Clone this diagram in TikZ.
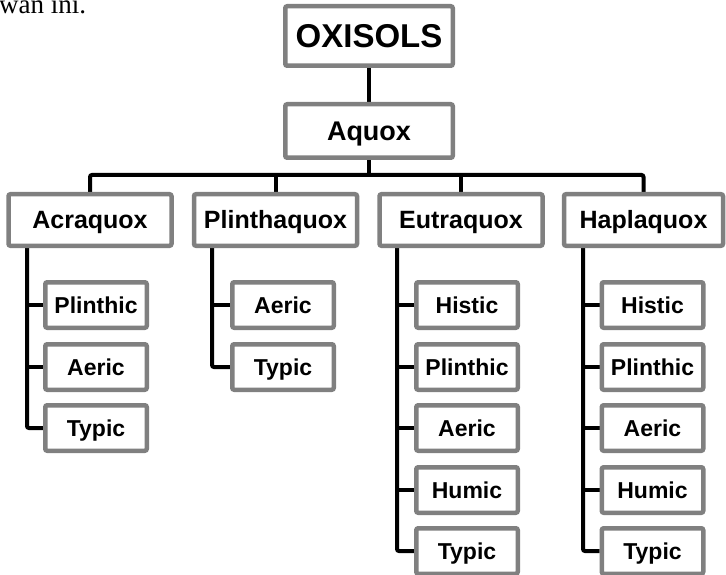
\documentclass[tikz,border=0pt]{standalone}
\usepackage{fontspec}
\setmainfont{Liberation Serif}
\setsansfont{Liberation Sans}
\usetikzlibrary{backgrounds}
\definecolor{boxgray}{RGB}{128,128,128}
\begin{document}
\begin{tikzpicture}[x=1pt,y=-1pt,
  box/.style={draw=boxgray, fill=white, line width=4.5pt, rounded corners=2pt,
    inner sep=0pt, text depth=0pt},
  topbox/.style={box, minimum width=167.5pt, minimum height=59.5pt, text height=23.6pt,
    font=\sffamily\bfseries\fontsize{33}{33}\selectfont},
  secbox/.style={box, minimum width=167.5pt, minimum height=53.5pt, text height=19.3pt,
    font=\sffamily\bfseries\fontsize{27}{27}\selectfont},
  grpbox/.style={box, minimum width=163pt, minimum height=51.5pt, text height=17.9pt,
    font=\sffamily\bfseries\fontsize{25}{25}\selectfont},
  subbox/.style={box, minimum width=101.5pt, minimum height=45.5pt, text height=16.5pt,
    font=\sffamily\bfseries\fontsize{23}{23}\selectfont},
  conn/.style={draw=black, line width=4pt, rounded corners=2pt}
]
\useasboundingbox (0,0) rectangle (726,575);

\node[anchor=base west, inner sep=0pt, font=\fontsize{27}{27}\selectfont] (intro) at (-1,14) {wan ini.};

\node[topbox] (ox) at (369,36) {OXISOLS};
\node[secbox] (aq) at (369,131) {Aquox};

\node[grpbox] (acra) at (90,220) {Acraquox};
\node[grpbox] (plin) at (275.5,220) {Plinthaquox};
\node[grpbox] (eutr) at (461,220) {Eutraquox};
\node[grpbox, minimum width=159pt] (hapl) at (643.5,220) {Haplaquox};

\node[subbox] (a1) at (96,305) {Plinthic};
\node[subbox] (a2) at (96,367) {Aeric};
\node[subbox] (a3) at (96,428) {Typic};

\node[subbox] (p1) at (283,305) {Aeric};
\node[subbox] (p2) at (283,367) {Typic};

\node[subbox] (e1) at (467,305) {Histic};
\node[subbox] (e2) at (467,367) {Plinthic};
\node[subbox] (e3) at (467,428) {Aeric};
\node[subbox] (e4) at (467,490) {Humic};
\node[subbox] (e5) at (467,551) {Typic};

\node[subbox] (h1) at (652.5,305) {Histic};
\node[subbox] (h2) at (652.5,367) {Plinthic};
\node[subbox] (h3) at (652.5,428) {Aeric};
\node[subbox] (h4) at (652.5,490) {Humic};
\node[subbox] (h5) at (652.5,551) {Typic};

\coordinate (bar) at (0,175);
\coordinate (ax) at (27,0);
\coordinate (px) at (212,0);
\coordinate (ex) at (397,0);
\coordinate (hx) at (583,0);

\begin{scope}[on background layer]
  \draw[conn] (ox) -- (aq);
  \draw[conn] (aq) -- (aq |- bar);
  \draw[conn] (acra) -- (acra |- bar) -- (hapl |- bar) -- (hapl);
  \draw[conn] (plin) -- (plin |- bar);
  \draw[conn] (eutr) -- (eutr |- bar);

  \draw[conn] (ax |- acra) -- (ax |- a3) -- (a3);
  \draw[conn] (ax |- a1) -- (a1);
  \draw[conn] (ax |- a2) -- (a2);

  \draw[conn] (px |- plin) -- (px |- p2) -- (p2);
  \draw[conn] (px |- p1) -- (p1);

  \draw[conn] (ex |- eutr) -- (ex |- e5) -- (e5);
  \draw[conn] (ex |- e1) -- (e1);
  \draw[conn] (ex |- e2) -- (e2);
  \draw[conn] (ex |- e3) -- (e3);
  \draw[conn] (ex |- e4) -- (e4);

  \draw[conn] (hx |- hapl) -- (hx |- h5) -- (h5);
  \draw[conn] (hx |- h1) -- (h1);
  \draw[conn] (hx |- h2) -- (h2);
  \draw[conn] (hx |- h3) -- (h3);
  \draw[conn] (hx |- h4) -- (h4);
\end{scope}
\end{tikzpicture}
\end{document}
